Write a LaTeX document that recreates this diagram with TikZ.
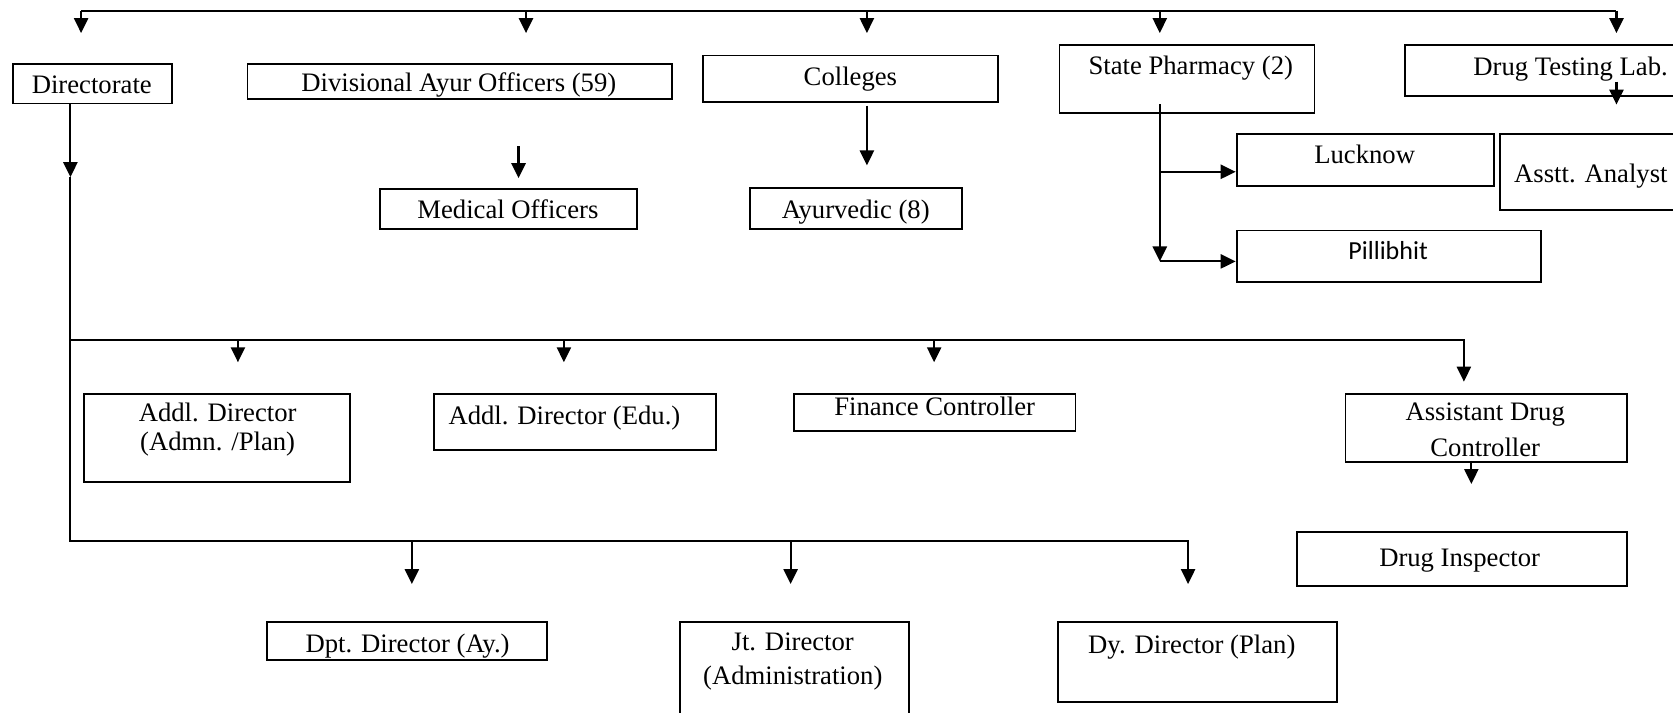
\documentclass[tikz,border=0pt]{standalone}
\usepackage{fontspec}
\setmainfont{Liberation Serif}
\newfontfamily\calib{Carlito}
\usetikzlibrary{arrows.meta}
\tikzset{
  bx/.style={draw, line width=0.9pt, rectangle, inner sep=0pt},
  tx/.style={inner sep=0pt, font=\fontsize{12.5}{15}\selectfont, text height=10.3pt, text depth=1.7pt},
  tm/.style={inner sep=0pt, align=center},
  ln/.style={line width=1pt, line join=miter},
  ar/.style={line width=1pt, line join=miter, -{Triangle[width=6.6pt,length=7pt]}},
}
\begin{document}
\begin{tikzpicture}[x=0.5pt,y=-0.5pt]
\fill[white] (0,0) rectangle (1568,668);
\clip (0,0) rectangle (1568,668);
% boxes
\node[bx, minimum width=74.5pt, minimum height=18.5pt] (dir) at (86.5,78.5) {};
\node[bx, minimum width=199pt, minimum height=16.5pt] (div) at (431,76.5) {};
\node[bx, minimum width=120.5pt, minimum height=19pt] (med) at (476.5,196) {};
\node[bx, minimum width=138pt, minimum height=22pt] (col) at (797,74) {};
\node[bx, minimum width=99.5pt, minimum height=19.5pt] (ayu) at (802.5,195.5) {};
\node[bx, minimum width=119.5pt, minimum height=32pt] (sp) at (1112.5,74) {};
\node[bx, minimum width=151.5pt, minimum height=24pt] (dtl) at (1468.5,66) {};
\node[bx, minimum width=120.5pt, minimum height=24pt] (luck) at (1279.5,150) {};
\node[bx, minimum width=107pt, minimum height=35.5pt] (aa) at (1513,161.5) {};
\node[bx, minimum width=142.5pt, minimum height=24pt] (pil) at (1301.5,240) {};
\node[bx, minimum width=124.5pt, minimum height=41.5pt] (adp) at (203.5,410.5) {};
\node[bx, minimum width=132pt, minimum height=26.5pt] (ade) at (539,395.5) {};
\node[bx, minimum width=132pt, minimum height=17.5pt] (fin) at (876,386.5) {};
\node[bx, minimum width=132pt, minimum height=32pt] (adc) at (1393,401) {};
\node[bx, minimum width=154.5pt, minimum height=25pt] (di) at (1370.5,524) {};
\node[bx, minimum width=131.5pt, minimum height=18pt] (dpt) at (381.5,601) {};
\node[bx, minimum width=107.5pt, minimum height=58.5pt] (jt) at (744.5,641.5) {};
\node[bx, minimum width=130.5pt, minimum height=37.5pt] (dy) at (1122.5,620.5) {};
% texts
\node[tx] (dirT) at (86,79) {Directorate};
\node[tx] (divT) at (430,77) {Divisional Ayur Officers (59)};
\node[tx] (medT) at (476,196) {Medical Officers};
\node[tx] (colT) at (797,72) {Colleges};
\node[tx] (ayuT) at (802,196) {Ayurvedic (8)};
\node[tx] (spT) at (1116,61) {State Pharmacy (2)};
\node[tx] (dtlT) at (1472,62) {Drug Testing Lab.};
\node[tx] (luckT) at (1279,145) {Lucknow};
\node[tx] (aaT) at (1491,162) {Asstt. Analyst};
\node[tx, font=\calib\fontsize{12.2}{14}\selectfont] (pilT) at (1301,235) {Pillibhit};
\node[tm, font=\fontsize{12.5}{13.5}\selectfont] (adpT) at (204,403) {Addl. Director\\(Admn. /Plan)};
\node[tx] (adeT) at (529,389) {Addl. Director (Edu.)};
\node[tx] (finT) at (876,381) {Finance Controller};
\node[tm, font=\fontsize{12.5}{17}\selectfont] (adcT) at (1392,403) {Assistant Drug\\Controller};
\node[tx] (diT) at (1368,522) {Drug Inspector};
\node[tx] (dptT) at (382,603) {Dpt. Director (Ay.)};
\node[tm, font=\fontsize{12.5}{16}\selectfont] (jtT) at (743,620) {Jt. Director\\(Administration)};
\node[tx] (dyT) at (1117,604) {Dy. Director (Plan)};
% top bus
\foreach \n/\x in {1/76,2/493,3/812.5,4/1087,5/1515} {
  \coordinate (top\n) at (\x,10);
  \coordinate (topE\n) at (\x,31);
}
\draw[ln] (top1) -- (top5);
\foreach \n in {1,...,5} { \draw[ar] (top\n) -- (topE\n); }
% directorate trunk
\coordinate (dv0) at ([xshift=-10.25pt]dir.south);
\coordinate (dvA) at (66,166);
\coordinate (bl) at (66,507);
\coordinate (br) at (1113.5,507);
\coordinate (brE) at (1113.5,547.4);
\draw[ar] (dv0) -- (dvA);
\draw[ar] (dvA) -- (bl) -- (br) -- (brE);
\coordinate (ml) at (66,318.6);
\coordinate (mr) at (1372,318.6);
\coordinate (mrE) at (1372,357.7);
\draw[ar] (ml) -- (mr) -- (mrE);
\foreach \n/\x in {1/223,2/528.5,3/875.5} {
  \coordinate (mb\n) at (\x,318.6);
  \coordinate (mbE\n) at (\x,339.5);
  \draw[ar] (mb\n) -- (mbE\n);
}
\foreach \n/\x in {1/386,2/741} {
  \coordinate (bb\n) at (\x,507);
  \coordinate (bbE\n) at (\x,547.4);
  \draw[ar] (bb\n) -- (bbE\n);
}
% divisional -> medical
\coordinate (dmA) at (486,137);
\coordinate (dmB) at (486,167);
\draw[ar] (dmA) -- (dmB);
% colleges -> ayurvedic
\coordinate (colA) at ([xshift=7.75pt,yshift=-1pt]col.south);
\coordinate (colB) at (812.5,155);
\draw[ar] (colA) -- (colB);
% state pharmacy
\coordinate (spv) at ([xshift=-12.75pt,yshift=4.5pt]sp.south);
\coordinate (pilA) at ([yshift=-2.5pt]pil.west);
\coordinate (luckA) at ([yshift=-5.5pt]luck.west);
\coordinate (spc) at (spv |- pilA);
\draw[ar] (spv) -- (spc);
\draw[ar] (spc) -- (pilA);
\draw[ar] (spv |- luckA) -- (luckA);
% drug testing lab inner arrow
\coordinate (dtA) at (1515,76.5);
\coordinate (dtB) at (1515,98);
\draw[ar] (dtA) -- (dtB);
% ADC -> drug inspector
\coordinate (adcA) at ([xshift=-7pt,yshift=1pt]adc.south);
\coordinate (adcB) at (1379,453.6);
\draw[ar] (adcA) -- (adcB);
\end{tikzpicture}
\end{document}
